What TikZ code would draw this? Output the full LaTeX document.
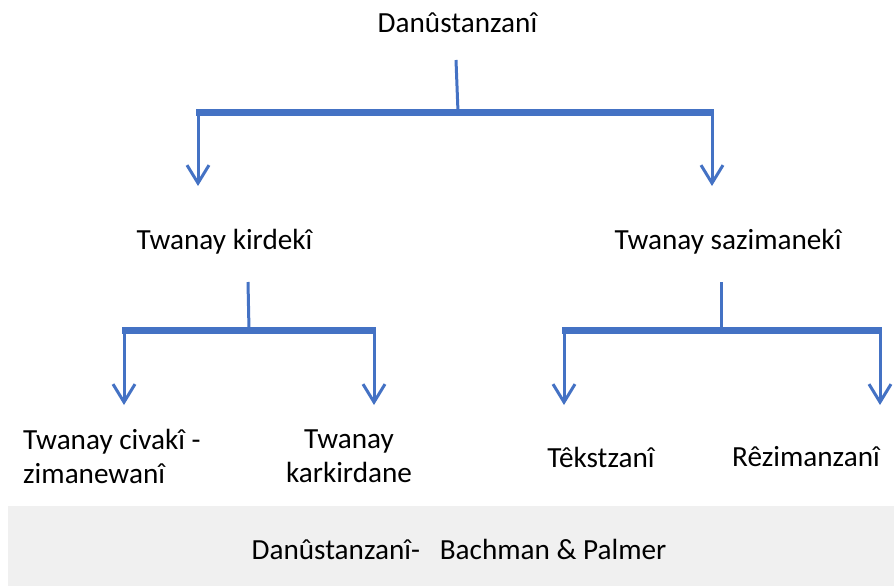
\documentclass[tikz,border=0pt]{standalone}
\usepackage{fontspec}
\setmainfont{Carlito}
\usetikzlibrary{arrows.meta}
\definecolor{lineblue}{HTML}{4472C4}
\definecolor{boxgray}{HTML}{F0F0F0}
\tikzset{
  x=1pt, y=-1pt,
  lbl/.style={font=\fontsize{29.2}{34}\selectfont, inner sep=0pt, text=black},
  stem/.style={draw=lineblue, line width=3pt},
  barline/.style={draw=lineblue, line width=7pt},
  droparrow/.style={draw=lineblue, line width=3pt, -{Straight Barb[length=18pt, width=22pt, line width=3pt]}},
}
\begin{document}
\begin{tikzpicture}
\useasboundingbox (0,0) rectangle (894,586);
\fill[boxgray] (8,506) rectangle (894,586);
\node[lbl] (title) at (457.5,23) {Danûstanzanî};
\node[lbl] (kird) at (224.5,242) {Twanay kirdekî};
\node[lbl] (sazi) at (728,242) {Twanay sazimanekî};
\node[lbl, align=left, anchor=west] (civ) at (23,456) {Twanay civakî -\\zimanewanî};
\node[lbl, align=center] (kark) at (349,456) {Twanay\\karkirdane};
\node[lbl] (tek) at (601,457) {Têkstzanî};
\node[lbl] (rez) at (806,457) {Rêzimanzanî};
\node[lbl] (src) at (459,549) {Danûstanzanî-\hspace{0.68em}Bachman \& Palmer};
% top level
\coordinate (t0) at (456,60);
\coordinate (t1) at (458,112);
\coordinate (tl) at (196,112);
\coordinate (tr) at (714,112);
\coordinate (tla) at (198,112);
\coordinate (tra) at (712,112);
\coordinate (tlb) at (198,186);
\coordinate (trb) at (712,186);
\draw[stem] (t0) -- (t1);
\draw[barline] (tl) -- (tr);
\draw[droparrow] (tla) -- (tlb);
\draw[droparrow] (tra) -- (trb);
% left sub
\coordinate (l0) at (248,282);
\coordinate (l1) at (249,330);
\coordinate (ll) at (122,330);
\coordinate (lr) at (376,330);
\coordinate (lla) at (124,330);
\coordinate (lra) at (374,330);
\coordinate (llb) at (124,405);
\coordinate (lrb) at (374,405);
\draw[stem] (l0) -- (l1);
\draw[barline] (ll) -- (lr);
\draw[droparrow] (lla) -- (llb);
\draw[droparrow] (lra) -- (lrb);
% right sub
\coordinate (r0) at (721,282);
\coordinate (r1) at (721,330);
\coordinate (rl) at (562,330);
\coordinate (rr) at (882,330);
\coordinate (rla) at (564,330);
\coordinate (rra) at (880,330);
\coordinate (rlb) at (564,405);
\coordinate (rrb) at (880,405);
\draw[stem] (r0) -- (r1);
\draw[barline] (rl) -- (rr);
\draw[droparrow] (rla) -- (rlb);
\draw[droparrow] (rra) -- (rrb);
\end{tikzpicture}
\end{document}
